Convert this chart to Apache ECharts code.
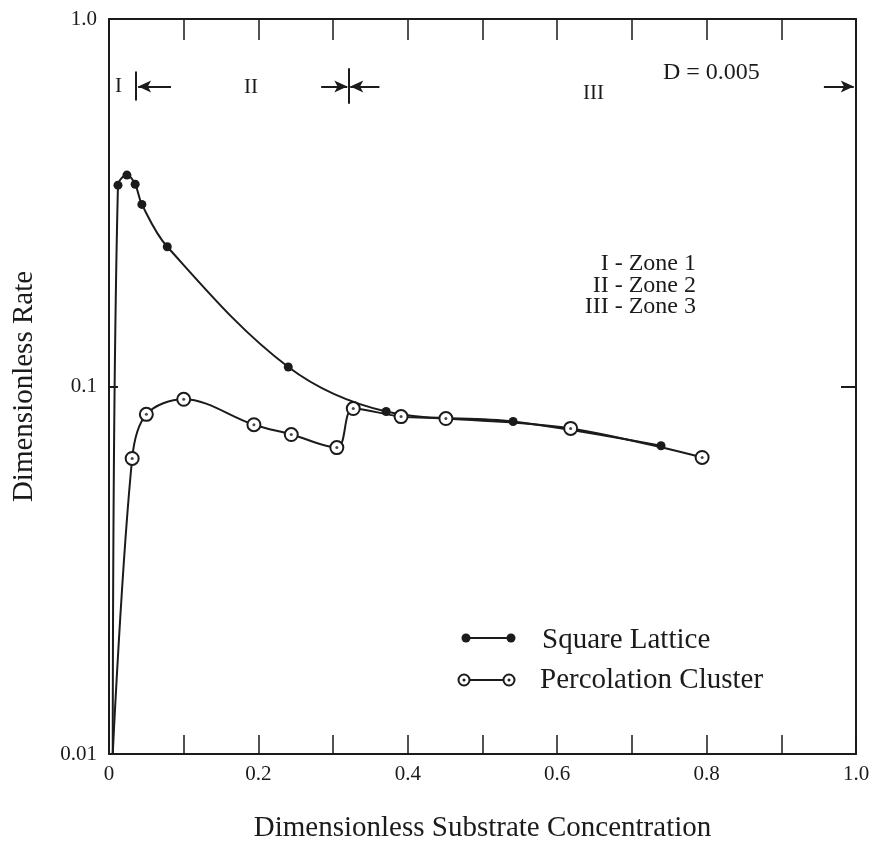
<!DOCTYPE html>
<html>
<head>
<meta charset="utf-8">
<script src="https://cdn.jsdelivr.net/npm/echarts@6/dist/echarts.min.js"></script>
<style>
html,body{margin:0;padding:0;background:#fff;}
#chart{width:875px;height:841px;}
</style>
</head>
<body>
<div id="chart"></div>
<script>
// ---- data ----
const squareLatticeX = [0.005, 0.012, 0.024, 0.035, 0.044, 0.078, 0.240, 0.371, 0.541, 0.739];
const squareLatticeY = [0.010, 0.353, 0.376, 0.355, 0.313, 0.240, 0.113, 0.0855, 0.0803, 0.069];
const squareLatticeMarked = [false, true, true, true, true, true, true, true, true, true];

const percolationX = [0.005, 0.031, 0.050, 0.100, 0.194, 0.244, 0.305, 0.327, 0.391, 0.451, 0.618, 0.794];
const percolationY = [0.010, 0.0637, 0.0840, 0.0923, 0.0787, 0.0740, 0.0682, 0.0871, 0.0828, 0.0818, 0.0769, 0.0641];
const percolationMarked = [false, true, true, true, true, true, true, true, true, true, true, true];

const xTickLabels = ['0', '0.2', '0.4', '0.6', '0.8', '1.0'];
const yTickLabels = {0.01: '0.01', 0.1: '0.1', 1: '1.0'};
const zoneBoundaries = [0.036, 0.321, 1.0];
const zoneArrowY = 0.655;
const zoneBarRange = [0.60, 0.72];

const seriesNames = ['Square Lattice', 'Percolation Cluster'];
const zoneLabels = ['I - Zone 1', 'II - Zone 2', 'III - Zone 3'];

const serif = '"Liberation Serif", "DejaVu Serif", serif';
const ink = '#1b1b1b';

function pts(xs, ys, marks) {
  return xs.map((x, i) => ({
    value: [x, ys[i]],
    symbol: marks[i] ? undefined : 'none'
  }));
}
function markedPts(xs, ys, marks) {
  return xs.map((x, i) => [x, ys[i]]).filter((p, i) => marks[i]);
}

const chart = echarts.init(document.getElementById('chart'), null, {renderer: 'canvas'});

const seg = (x1, y1, x2, y2, sym) => [
  {coord: [x1, y1], symbol: sym ? sym[0] : 'none'},
  {coord: [x2, y2], symbol: sym ? sym[1] : 'none'}
];

const zoneLines = [
  seg(zoneBoundaries[0], zoneBarRange[0], zoneBoundaries[0], zoneBarRange[1]),
  seg(zoneBoundaries[0] + 0.047, zoneArrowY, zoneBoundaries[0] + 0.003, zoneArrowY, ['none', 'arrow']),
  seg(zoneBoundaries[1], zoneBarRange[0] * 0.98, zoneBoundaries[1], zoneBarRange[1] * 1.02),
  seg(zoneBoundaries[1] - 0.037, zoneArrowY, zoneBoundaries[1] - 0.002, zoneArrowY, ['none', 'arrow']),
  seg(zoneBoundaries[1] + 0.041, zoneArrowY, zoneBoundaries[1] + 0.002, zoneArrowY, ['none', 'arrow']),
  seg(zoneBoundaries[2] - 0.043, zoneArrowY, zoneBoundaries[2] - 0.003, zoneArrowY, ['none', 'arrow'])
];

const option = {
  backgroundColor: '#fff',
  animation: false,
  grid: {left: 109, right: 19, top: 19, bottom: 87, containLabel: false, outerBoundsMode: 'none'},
  xAxis: [{
    type: 'value', min: 0, max: 1, interval: 0.1,
    name: 'Dimensionless Substrate Concentration',
    nameLocation: 'middle', nameGap: 60,
    nameTextStyle: {fontFamily: serif, fontSize: 29, color: ink},
    axisLine: {show: true, onZero: false, lineStyle: {color: ink, width: 2}},
    axisTick: {show: true, inside: true, length: 19, lineStyle: {color: ink, width: 1.5}},
    axisLabel: {
      fontFamily: serif, fontSize: 21, color: ink, margin: 10,
      formatter: v => {
        const k = Math.round(v * 10);
        return k % 2 === 0 ? xTickLabels[k / 2] : '';
      }
    },
    splitLine: {show: false}
  }, {
    type: 'value', min: 0, max: 1, interval: 0.1, position: 'top',
    axisLine: {show: true, onZero: false, lineStyle: {color: ink, width: 2}},
    axisTick: {show: true, inside: true, length: 21, lineStyle: {color: ink, width: 1.5}},
    axisLabel: {show: false}, splitLine: {show: false}
  }],
  yAxis: [{
    type: 'log', logBase: 10, min: 0.01, max: 1,
    name: 'Dimensionless Rate', nameLocation: 'middle', nameGap: 70,
    nameTextStyle: {fontFamily: serif, fontSize: 29, color: ink},
    axisLine: {show: true, onZero: false, lineStyle: {color: ink, width: 2}},
    axisTick: {show: true, inside: true, length: 9, lineStyle: {color: ink, width: 2}},
    minorTick: {show: false},
    axisLabel: {
      fontFamily: serif, fontSize: 21, color: ink, margin: 12,
      formatter: v => yTickLabels[+v.toPrecision(3)] || ''
    },
    splitLine: {show: false}
  }, {
    type: 'log', logBase: 10, min: 0.01, max: 1, position: 'right',
    axisLine: {show: true, onZero: false, lineStyle: {color: ink, width: 2}},
    axisTick: {show: true, inside: true, length: 15, lineStyle: {color: ink, width: 2}},
    axisLabel: {show: false}, splitLine: {show: false}
  }],
  series: [{
    name: seriesNames[0], type: 'line', smooth: 0.35,
    data: pts(squareLatticeX, squareLatticeY, squareLatticeMarked),
    symbol: 'circle', symbolSize: 9,
    lineStyle: {color: ink, width: 2},
    itemStyle: {color: ink, borderWidth: 0},
    z: 3,
    markLine: {
      silent: true, symbolSize: [9, 13], animation: false,
      lineStyle: {color: ink, width: 2, type: 'solid'},
      label: {show: false},
      data: zoneLines
    }
  }, {
    name: seriesNames[1], type: 'line', smooth: 0.35,
    data: pts(percolationX, percolationY, percolationMarked),
    symbol: 'circle', symbolSize: 13,
    lineStyle: {color: ink, width: 2},
    itemStyle: {color: '#fff', borderColor: ink, borderWidth: 2},
    z: 4
  }, {
    name: seriesNames[1] + ' centre', type: 'scatter',
    data: markedPts(percolationX, percolationY, percolationMarked),
    symbol: 'circle', symbolSize: 3,
    itemStyle: {color: ink}, z: 5, silent: true
  }],
  graphic: [
    {type: 'text', left: 115, top: 76, style: {text: 'I', font: '21px ' + serif, fill: ink}},
    {type: 'text', left: 244, top: 77, style: {text: 'II', font: '21px ' + serif, fill: ink}},
    {type: 'text', left: 583, top: 83, style: {text: 'III', font: '21px ' + serif, fill: ink}},
    {type: 'text', left: 663, top: 61, style: {text: 'D = 0.005', font: '24px ' + serif, fill: ink}},
    {type: 'text', right: 179, top: 252, style: {text: zoneLabels[0], font: '24px ' + serif, fill: ink}},
    {type: 'text', right: 179, top: 274, style: {text: zoneLabels[1], font: '24px ' + serif, fill: ink}},
    {type: 'text', right: 179, top: 295, style: {text: zoneLabels[2], font: '24px ' + serif, fill: ink}},
    // legend
    {type: 'line', shape: {x1: 466, y1: 638, x2: 511, y2: 638}, style: {stroke: ink, lineWidth: 2}},
    {type: 'circle', shape: {cx: 466, cy: 638, r: 4.5}, style: {fill: ink}},
    {type: 'circle', shape: {cx: 511, cy: 638, r: 4.5}, style: {fill: ink}},
    {type: 'text', left: 542, top: 626, style: {text: seriesNames[0], font: '29px ' + serif, fill: ink}},
    {type: 'line', shape: {x1: 464, y1: 680, x2: 509, y2: 680}, style: {stroke: ink, lineWidth: 2}},
    {type: 'circle', shape: {cx: 464, cy: 680, r: 5.5}, style: {fill: '#fff', stroke: ink, lineWidth: 2}},
    {type: 'circle', shape: {cx: 509, cy: 680, r: 5.5}, style: {fill: '#fff', stroke: ink, lineWidth: 2}},
    {type: 'circle', shape: {cx: 464, cy: 680, r: 1.5}, style: {fill: ink}},
    {type: 'circle', shape: {cx: 509, cy: 680, r: 1.5}, style: {fill: ink}},
    {type: 'text', left: 540, top: 666, style: {text: seriesNames[1], font: '29px ' + serif, fill: ink}}
  ]
};
chart.setOption(option);
</script>
</body>
</html>
